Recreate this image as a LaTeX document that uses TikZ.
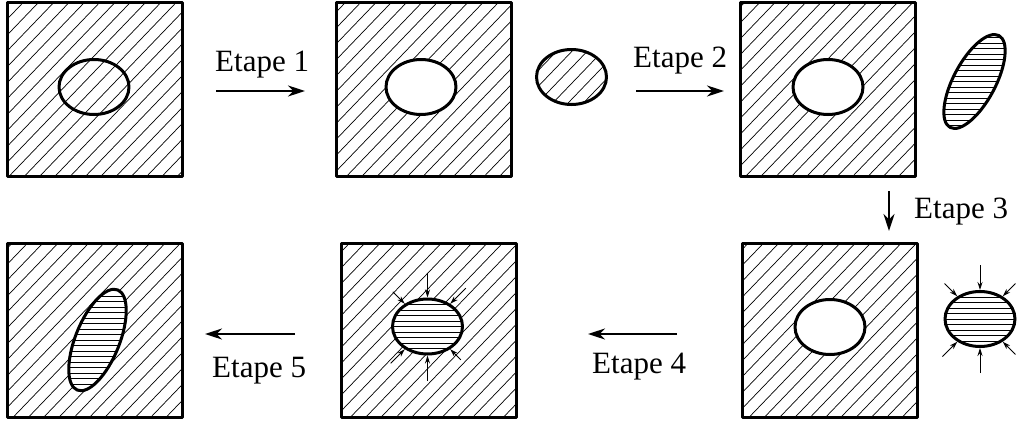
\documentclass[tikz,border=0pt]{standalone}
\usepackage{fontspec}
\setmainfont{Liberation Serif}
\usetikzlibrary{shapes.geometric,calc,arrows.meta}
\tikzset{
	hachure/.style={path picture={
		\foreach \k in {-14,...,14}
			\draw[line width=0.7pt] (path picture bounding box.center) ++(\k*15.3-110+#1,114.4) -- ++(220,-228.8);
	}},
	hachure/.default=0,
	rayure/.style={path picture={
		\foreach \k in {-11,...,11}
			\draw[line width=1pt] (path picture bounding box.center) ++(-90,\k*5.5) -- ++(180,0);
	}},
	plaque/.style={draw, line width=3pt, minimum width=175pt, minimum height=174pt, inner sep=0pt},
	piece/.style={draw, ellipse, line width=3pt, fill=white, inner sep=0pt, minimum width=70pt, minimum height=55pt},
	etape/.style={inner sep=0pt, anchor=base west},
	grande/.style={->, line width=2.3pt, >={Stealth[length=17pt,width=11pt]}},
	petite/.style={->, line width=1pt, >={Stealth[length=8pt,width=5pt]}},
}
% piece inclinee rayee : centre, angle, demi-axes
\newcommand{\pieceinclinee}[3]{
	\begin{scope}
		\clip[rotate around={#2:(#1)}] (#1) ellipse (#3);
		\foreach \k in {-11,...,11}
			\draw[line width=1pt] (#1) ++(-90,\k*5.5) -- ++(180,0);
	\end{scope}
	\draw[line width=3pt, rotate around={#2:(#1)}] (#1) ellipse (#3);
}
\begin{document}
\begin{tikzpicture}[x=1pt, y=-1pt, font=\fontsize{31}{36}\selectfont, line join=round]
	\useasboundingbox (0,0) rectangle (1019,423);
	% plaques
	\node[plaque, hachure=-1.5] (plaqueA) at (94.5,89) {};
	\node[plaque, hachure=7] (plaqueB) at (423.5,89) {};
	\node[plaque, hachure=1.6] (plaqueC) at (828,89) {};
	\node[plaque, hachure=3.5] (plaqueD) at (829.5,330) {};
	\node[plaque, hachure=5.8] (plaqueE) at (428.5,330) {};
	\node[plaque, hachure=2] (plaqueF) at (95,330) {};
	% pieces
	\node[piece, hachure=0.9] (coeurA) at (94,87) {};
	\node[piece] (trouB) at (421,87) {};
	\node[piece, hachure=6.3] (coeurB) at (571.5,77) {};
	\node[piece] (trouC) at (828,87) {};
	\node[piece] (trouD) at (830,327) {};
	\node[piece, rayure] (coeurD) at (980,319) {};
	\node[piece, rayure] (coeurE) at (427.5,326.5) {};
	\coordinate (centreC) at (974.5,81.5);
	\coordinate (centreF) at (97.5,340);
	\fill[white, rotate around={68:(centreF)}] (centreF) ellipse (54 and 22);
	\pieceinclinee{centreC}{62}{52 and 21}
	\pieceinclinee{centreF}{68}{54 and 22}
	% petites fleches
	\foreach \a/\l in {90/25, 270/25, 135/17, 45/22, 225/20, 315/15}
		\draw[petite] ($(coeurE.\a)+(\a:\l pt)$) -- (coeurE.\a);
	\foreach \a/\l in {90/25, 270/25, 135/18, 45/18, 225/21, 315/18}
		\draw[petite] ($(coeurD.\a)+(\a:\l pt)$) -- (coeurD.\a);
	% etapes
	\coordinate (d1) at (216,91); \coordinate (f1) at (305,91);
	\coordinate (d2) at (636,91); \coordinate (f2) at (724,91);
	\coordinate (d3) at (889,191); \coordinate (f3) at (889,231);
	\coordinate (d4) at (677,334); \coordinate (f4) at (588,334);
	\coordinate (d5) at (295,334); \coordinate (f5) at (205,334);
	\draw[grande] (d1) -- (f1);
	\draw[grande] (d2) -- (f2);
	\draw[grande] (d3) -- (f3);
	\draw[grande] (d4) -- (f4);
	\draw[grande] (d5) -- (f5);
	\node[etape] (e1) at (215,71) {Etape 1};
	\node[etape] (e2) at (633,67) {Etape 2};
	\node[etape] (e3) at (914,218) {Etape 3};
	\node[etape] (e4) at (592,373) {Etape 4};
	\node[etape] (e5) at (212,377) {Etape 5};
\end{tikzpicture}
\end{document}
